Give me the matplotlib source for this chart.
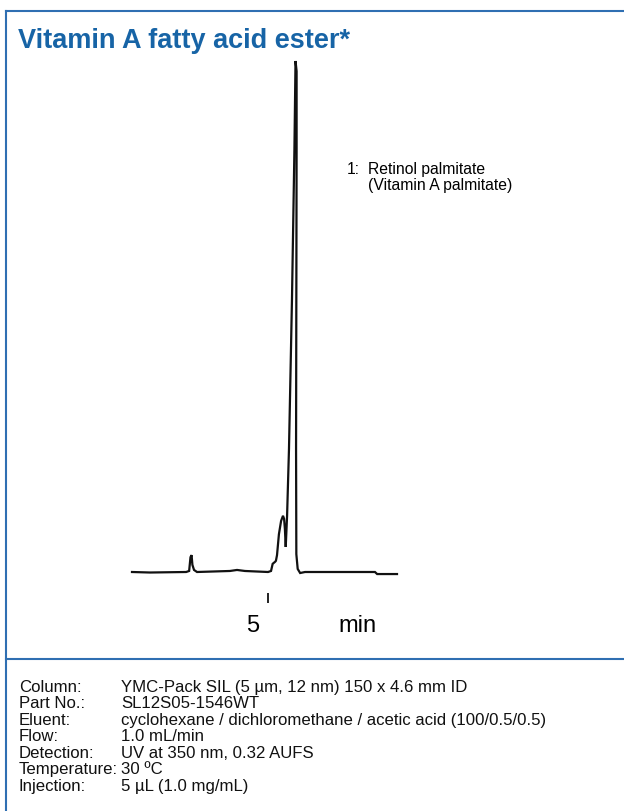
import matplotlib
matplotlib.use("Agg")
import matplotlib.pyplot as plt
from matplotlib.lines import Line2D

plt.rcParams['font.family'] = ['Liberation Sans', 'DejaVu Sans']

# chromatogram trace (time in min, signal in % of main peak)
time_min = [0.00, 0.66, 1.99, 2.10, 2.15, 2.19, 2.22, 2.28, 2.39, 3.60, 3.86, 4.15,
            5.00, 5.11, 5.17, 5.26, 5.29, 5.33, 5.40, 5.48, 5.55, 5.59, 5.62, 5.65,
            5.70, 5.77, 5.88, 5.97, 6.01, 6.05, 6.05, 6.04, 6.03, 6.04, 6.09, 6.18,
            6.36, 7.65, 8.93, 9.01, 9.74]
signal = [0.0, -0.1, 0.0, 0.2, 2.9, 3.3, 1.4, 0.4, 0.0, 0.2, 0.4, 0.2,
          0.0, 0.2, 1.6, 2.0, 2.2, 3.3, 7.4, 10.0, 11.0, 10.4, 8.4, 4.9,
          11.0, 24.1, 53.4, 82.8, 100.0, 98.0, 82.8, 53.4, 24.1, 3.5, 0.6, -0.2,
          0.0, 0.0, 0.0, -0.4, -0.4]

x_ticks = [5]
x_tick_labels = ['5']
x_unit = 'min'
title = 'Vitamin A fatty acid ester*'
peak_no = '1:'
peak_name = ['Retinol palmitate', '(Vitamin A palmitate)']

cond_labels = ['Column:', 'Part No.:', 'Eluent:', 'Flow:', 'Detection:',
               'Temperature:', 'Injection:']
cond_values = ['YMC-Pack SIL (5 µm, 12 nm) 150 x 4.6 mm ID',
               'SL12S05-1546WT',
               'cyclohexane / dichloromethane / acetic acid (100/0.5/0.5)',
               '1.0 mL/min',
               'UV at 350 nm, 0.32 AUFS',
               '30 ºC',
               '5 µL (1.0 mg/mL)']

W, H = 624, 812
blue = '#1764a6'
edge = '#2f6fb2'

fig = plt.figure(figsize=(W / 100, H / 100), dpi=100)


def fx(px):
    return px / W


def fy(py):
    return 1 - py / H


# frame lines
fig.add_artist(Line2D([fx(6), 1], [fy(12), fy(12)], color=edge, lw=1.5))
fig.add_artist(Line2D([fx(6), fx(6)], [fy(12), 0], color=edge, lw=1.5))
fig.add_artist(Line2D([fx(6), 1], [fy(660), fy(660)], color=edge, lw=1.5))

fig.text(fx(18), fy(48), title, color=blue, fontsize=19.5, fontweight='bold', va='baseline')

# chromatogram axes: baseline at y=573 px, top at 62 px, x from 132 to 397 px
ax = fig.add_axes([fx(132), fy(573), fx(397) - fx(132), fy(62) - fy(573)])
ax.plot(time_min, signal, color='#111111', lw=1.6, solid_joinstyle='miter', clip_on=False)
ax.set_xlim(0, 9.74)
ax.set_ylim(0, 100)
ax.patch.set_visible(False)
for s in ax.spines.values():
    s.set_visible(False)
ax.set_yticks([])
ax.set_xticks(x_ticks, [''] * len(x_ticks))
ax.spines['bottom'].set_position(('outward', 18.4))
ax.tick_params(axis='x', direction='inout', length=6.5, width=1.3, color='#111111')
for t, lab in zip(x_ticks, x_tick_labels):
    ax.text(t - 0.58, -0.115, lab, transform=ax.get_xaxis_transform(),
            fontsize=17, ha='center', va='baseline')
ax.text(8.3, -0.115, x_unit, transform=ax.get_xaxis_transform(),
        fontsize=17, ha='center', va='baseline')

# peak legend
fig.text(fx(347), fy(174), peak_no, fontsize=11.3, va='baseline')
fig.text(fx(368), fy(174), peak_name[0], fontsize=11.3, va='baseline')
fig.text(fx(368), fy(190), peak_name[1], fontsize=11.3, va='baseline')

# conditions
for i, (lab, val) in enumerate(zip(cond_labels, cond_values)):
    yb = 692 + i * 16.5
    fig.text(fx(19), fy(yb), lab, fontsize=12.1, va='baseline', color='#111111')
    fig.text(fx(121), fy(yb), val, fontsize=12.1, va='baseline', color='#111111')

fig.savefig('out.png', dpi=100)
